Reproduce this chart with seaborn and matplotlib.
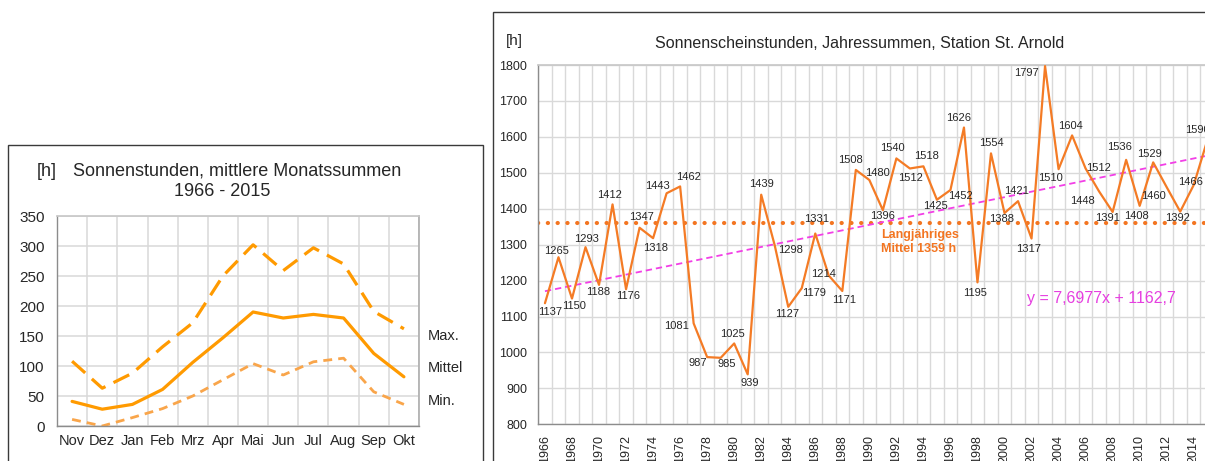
import numpy as np
import pandas as pd
import matplotlib
matplotlib.use("Agg")
import matplotlib.pyplot as plt
from matplotlib.patches import Rectangle
import seaborn as sns

# ---- monthly sunshine sums 1966-2015 ----
months = ["Nov", "Dez", "Jan", "Feb", "Mrz", "Apr", "Mai", "Jun", "Jul", "Aug", "Sep", "Okt"]
monthly_max = [108, 63, 88, 132, 172, 250, 302, 259, 297, 270, 191, 162]
monthly_mean = [41, 28, 36, 61, 106, 147, 190, 180, 186, 180, 121, 82]
monthly_min = [11, 0, 14, 29, 50, 77, 104, 85, 107, 113, 57, 36]
series_names = ["Max.", "Mittel", "Min."]

# ---- annual sunshine sums ----
years = list(range(1966, 2016))
annual_hours = [1137, 1265, 1150, 1293, 1188, 1412, 1176, 1347, 1318, 1443,
                1462, 1081, 987, 985, 1025, 939, 1439, 1298, 1127, 1179,
                1331, 1214, 1171, 1508, 1480, 1396, 1540, 1512, 1518, 1425,
                1452, 1626, 1195, 1554, 1388, 1421, 1317, 1797, 1510, 1604,
                1512, 1448, 1391, 1536, 1408, 1529, 1460, 1392, 1466, 1590]
long_term_mean = 1359
trend_slope = 7.6977
trend_intercept = 1162.7

# label offsets (pixels, right / down) for the annual value labels
label_offsets = [(5, 9), (-1.5, -6), (2, 7), (1.4, -8), (-1, 7), (-2.6, -9), (2, 7),
                 (1.4, -10.6), (3, 10), (-9.6, -7), (8, -9), (-17, 3), (-9, 6),
                 (6.4, 6.4), (-2, -9), (2.4, 9), (0, -10.6), (16, 5), (-1, 7.4),
                 (12, 5), (1.4, -15), (-5, -2), (2, 9), (-5.6, -9.8), (8, -7),
                 (-0.6, 6), (-4, -10), (1, 10), (3.4, -10), (-1, 6.4), (10, 6),
                 (-5, -9.5), (-2, 11), (0.3, -10), (-3, 6), (-1, -10), (-2.7, 10),
                 (-19, 7), (-8, 9), (-1.6, -9), (13, 0), (-16.7, 10), (-5, 6),
                 (-7, -13), (-3, 10), (-4, -8), (-13, 9), (-3, 6.4), (-3, -3),
                 (-10, -10)]

W, H = 1205, 461

sns.set_theme(style="white")
plt.rcParams["font.family"] = ["Liberation Sans", "DejaVu Sans"]

fig = plt.figure(figsize=(W / 100, H / 100), dpi=100)
fig.patch.set_facecolor("white")


def fx(x):
    return x / W


def fy(y):
    return 1 - y / H


def axes_rect(left, top, right, bottom):
    return [fx(left), fy(bottom), (right - left) / W, (bottom - top) / H]


GRID = "#D9D9D9"
AXIS = "#8C8C8C"
TXT = "#262626"

# outer frames of both panels
fig.patches.append(Rectangle((fx(8), fy(475)), (483 - 8) / W, (475 - 145) / H,
                             transform=fig.transFigure, fill=False,
                             edgecolor="#3A3A3A", lw=1.0))
fig.patches.append(Rectangle((fx(493), fy(475)), (1230 - 493) / W, (475 - 12) / H,
                             transform=fig.transFigure, fill=False,
                             edgecolor="#3A3A3A", lw=1.0))

# ================= left panel: monthly sums =================
ax1 = fig.add_axes(axes_rect(57, 216, 419, 426))
monthly = pd.DataFrame({"pos": np.arange(len(months)),
                        "Max.": monthly_max, "Mittel": monthly_mean, "Min.": monthly_min})

styles = {
    "Max.": dict(color="#FF9A00", lw=2.3, linestyle=(0, (5.5, 2.8))),
    "Mittel": dict(color="#FF9A00", lw=2.3, linestyle="-"),
    "Min.": dict(color="#F9A54A", lw=2.0, linestyle=(0, (3.2, 2.2))),
}
for name in series_names:
    sns.lineplot(data=monthly, x="pos", y=name, ax=ax1, **styles[name])

ax1.set_xlim(-0.5, len(months) - 0.5)
ax1.set_ylim(0, 350)
ax1.set_yticks(np.arange(0, 351, 50))
ax1.set_xticks(np.arange(len(months)))
ax1.set_xticklabels(months, fontsize=10.5, color=TXT)
ax1.set_xticks(np.arange(len(months) + 1) - 0.5, minor=True)
ax1.tick_params(axis="x", which="major", length=0, pad=6)
ax1.tick_params(axis="x", which="minor", length=5, color=AXIS, width=1, direction="out")
ax1.tick_params(axis="y", length=5, color=AXIS, width=1, direction="out",
                labelsize=11, labelcolor=TXT, pad=4)
ax1.grid(True, axis="y", which="major", color=GRID, lw=1.1)
ax1.grid(True, axis="x", which="minor", color=GRID, lw=1.1)
ax1.set_axisbelow(True)
ax1.set_xlabel("")
ax1.set_ylabel("")
for side in ["left", "bottom"]:
    ax1.spines[side].set_color(AXIS)
    ax1.spines[side].set_linewidth(1.0)
ax1.spines["right"].set_color("#B0B0B0")
ax1.spines["top"].set_color("#C8C8C8")

fig.text(fx(37), fy(171), "[h]", fontsize=13, color=TXT, ha="left", va="center")
fig.text(fx(237), fy(171), "Sonnenstunden, mittlere Monatssummen", fontsize=13,
         color=TXT, ha="center", va="center")
fig.text(fx(222), fy(192), "1966 - 2015", fontsize=13, color=TXT, ha="center", va="center")
for name, ypix in zip(series_names, [336, 368, 401]):
    fig.text(fx(428), fy(ypix), name, fontsize=10.5, color=TXT, ha="left", va="center")

# ================= right panel: annual sums =================
ax2 = fig.add_axes(axes_rect(538.2, 65, 1214, 424.3))
annual = pd.DataFrame({"pos": np.arange(len(years)), "hours": annual_hours})

ax2.axhline(long_term_mean, color="#F37521", lw=3.0,
            linestyle=(0, (0.05, 2.3)), dash_capstyle="round", zorder=2)
trend_y = trend_slope * (annual["pos"] + 1) + trend_intercept
sns.lineplot(x=annual["pos"], y=trend_y, ax=ax2, color="#F23FE6", lw=1.3,
             linestyle=(0, (3.5, 2.2)), zorder=3)
sns.lineplot(data=annual, x="pos", y="hours", ax=ax2, color="#F47B25", lw=1.6, zorder=4)

for i, (v, (dx, dy)) in enumerate(zip(annual_hours, label_offsets)):
    ax2.annotate(str(v), (i, v), xytext=(dx * 0.72, -dy * 0.72), textcoords="offset points",
                 ha="center", va="center", fontsize=8, color=TXT, zorder=5)

ax2.set_xlim(-0.5, len(years) - 0.5)
ax2.set_ylim(800, 1800)
ax2.set_yticks(np.arange(800, 1801, 100))
ax2.set_xticks(np.arange(0, len(years), 2))
ax2.set_xticklabels([str(y) for y in years[::2]], rotation=90, fontsize=9, color=TXT)
ax2.set_xticks(np.arange(len(years) + 1) - 0.5, minor=True)
ax2.tick_params(axis="x", which="major", length=0, pad=8)
ax2.tick_params(axis="x", which="minor", length=4, color=AXIS, width=1, direction="out")
ax2.tick_params(axis="y", length=5, color=AXIS, width=1, direction="out",
                labelsize=9, labelcolor=TXT, pad=3)
ax2.grid(True, axis="y", which="major", color=GRID, lw=1.0)
ax2.grid(True, axis="x", which="minor", color=GRID, lw=1.0)
ax2.set_axisbelow(True)
ax2.set_xlabel("")
ax2.set_ylabel("")
for side in ["left", "bottom"]:
    ax2.spines[side].set_color(AXIS)
    ax2.spines[side].set_linewidth(1.0)
ax2.spines["right"].set_visible(False)
ax2.spines["top"].set_color("#C8C8C8")

fig.text(fx(506), fy(41), "[h]", fontsize=11, color=TXT, ha="left", va="center")
fig.text(fx(860), fy(43), "Sonnenscheinstunden, Jahressummen, Station St. Arnold",
         fontsize=11.5, color=TXT, ha="center", va="center")
fig.text(fx(881), fy(242), "Langjähriges\nMittel 1359 h", fontsize=9, fontweight="bold",
         color="#F37521", ha="left", va="center", linespacing=1.25)
fig.text(fx(1027), fy(298), "y = 7,6977x + 1162,7", fontsize=11.5, color="#E63FE0",
         ha="left", va="center")

fig.savefig("out.png", dpi=100, facecolor="white")
